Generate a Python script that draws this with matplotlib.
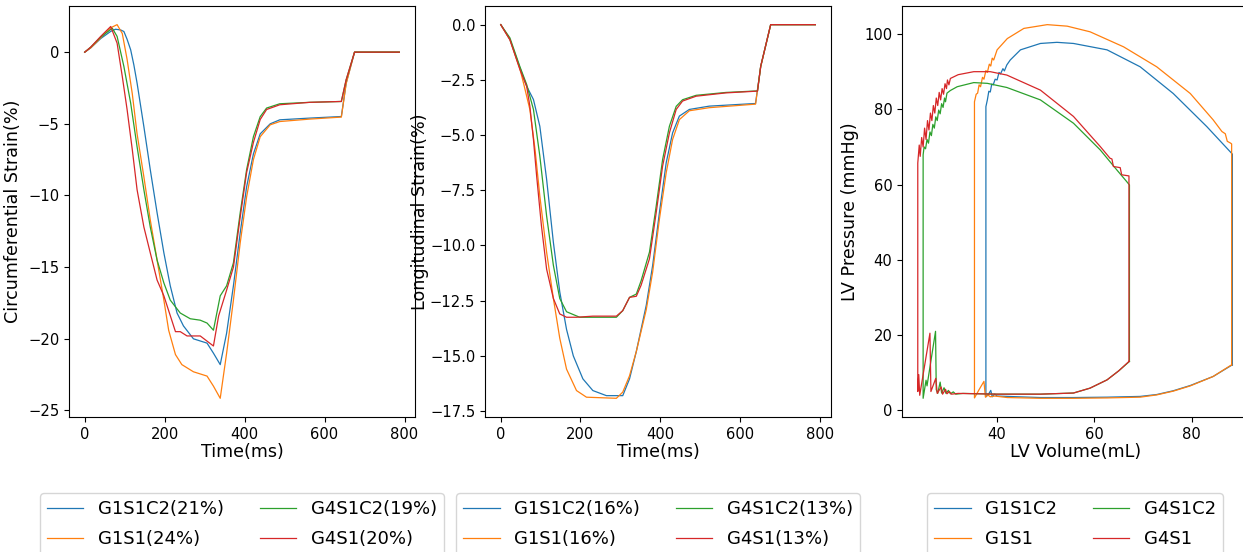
import matplotlib
matplotlib.use("Agg")
import matplotlib.pyplot as plt

labels = ["G1S1C2", "G1S1", "G4S1C2", "G4S1"]
colors = ["tab:blue", "tab:orange", "tab:green", "tab:red"]
circ_pct = ["21%", "24%", "19%", "20%"]
long_pct = ["16%", "16%", "13%", "13%"]

# circumferential strain (%), time in ms
circ_t_g1s1c2 = [0, 15, 40, 65, 77, 90, 98, 106, 115, 123, 131, 148, 164, 181, 198, 214, 231, 247, 272, 306, 322,
                 339, 355, 372, 389, 405, 422, 439, 464, 488, 563, 642, 654, 675, 787]
circ_g1s1c2 = [0, 0.3, 0.95, 1.45, 1.6, 1.55, 1.44, 0.9, 0.16, -0.9, -2.16, -5.2, -8.2, -11.2, -14.0, -16.3, -18.2,
               -19.1, -20.0, -20.3, -21.0, -21.8, -19.6, -16.3, -12.6, -9.4, -7.1, -5.7, -5.0, -4.72, -4.6, -4.49,
               -2.16, 0, 0]
circ_t_g1s1 = [0, 15, 40, 65, 81, 94, 106, 119, 131, 148, 164, 181, 198, 210, 227, 243, 272, 306, 322, 339, 355, 372,
               389, 405, 422, 439, 464, 488, 563, 642, 654, 675, 787]
circ_g1s1 = [0, 0.3, 1.0, 1.7, 1.92, 1.3, -0.5, -2.9, -5.7, -8.7, -11.7, -14.5, -17.3, -19.4, -21.1, -21.8, -22.3,
             -22.6, -23.3, -24.15, -21.0, -17.3, -13.3, -10.1, -7.5, -5.9, -5.07, -4.84, -4.67, -4.53, -2.2, 0, 0]
circ_t_g4s1c2 = [0, 15, 40, 69, 81, 98, 115, 131, 148, 164, 181, 198, 214, 239, 264, 289, 306, 322, 339, 355, 372,
                 389, 405, 422, 439, 455, 488, 563, 642, 654, 675, 787]
circ_g4s1c2 = [0, 0.35, 1.05, 1.67, 1.1, -1.0, -3.56, -6.6, -9.6, -12.2, -14.5, -16.1, -17.3, -18.2, -18.6, -18.7,
               -18.9, -19.4, -17.0, -16.3, -14.7, -11.2, -8.2, -5.9, -4.5, -3.9, -3.6, -3.5, -3.44, -1.93, 0, 0]
circ_t_g4s1 = [0, 15, 40, 65, 81, 94, 106, 119, 131, 148, 164, 181, 198, 227, 239, 256, 289, 322, 335, 355, 372, 389,
               405, 422, 439, 455, 488, 563, 642, 654, 675, 787]
circ_g4s1 = [0, 0.35, 1.1, 1.79, 0.63, -1.7, -4.0, -6.8, -9.6, -12.2, -14.0, -15.9, -17.0, -19.5, -19.5, -19.8, -19.8,
             -20.5, -18.4, -16.6, -15.0, -11.5, -8.4, -6.3, -4.7, -4.0, -3.67, -3.5, -3.44, -1.93, 0, 0]

# longitudinal strain (%)
long_t_g1s1c2 = [0, 23, 48, 65, 82, 98, 115, 132, 148, 165, 182, 206, 231, 265, 306, 323, 340, 365, 381, 398, 415,
                 431, 448, 473, 523, 639, 652, 677, 789]
long_g1s1c2 = [0, -0.68, -1.95, -2.79, -3.39, -4.6, -7.0, -9.86, -12.1, -13.8, -15.0, -16.04, -16.57, -16.8, -16.8,
               -16.04, -14.8, -12.7, -10.9, -8.5, -6.25, -4.9, -4.14, -3.84, -3.69, -3.57, -1.9, 0, 0]
long_t_g1s1 = [0, 23, 48, 57, 73, 86, 98, 115, 132, 148, 165, 190, 215, 290, 306, 323, 340, 365, 381, 398, 415, 431,
               448, 473, 523, 639, 652, 677, 789]
long_g1s1 = [0, -0.68, -2.0, -2.64, -3.84, -5.65, -7.76, -10.3, -12.4, -14.2, -15.6, -16.57, -16.87, -16.92, -16.64,
             -15.9, -14.8, -12.9, -11.2, -8.8, -6.7, -5.2, -4.3, -3.9, -3.76, -3.6, -1.9, 0, 0]
long_t_g4s1c2 = [0, 23, 48, 65, 82, 98, 115, 132, 148, 165, 198, 290, 306, 323, 340, 352, 373, 390, 406, 423, 440,
                 456, 490, 565, 644, 652, 677, 789]
long_g4s1c2 = [0, -0.6, -1.9, -2.71, -3.84, -5.95, -8.66, -10.9, -12.4, -13.0, -13.25, -13.25, -12.95, -12.35, -12.2,
               -11.6, -10.3, -8.2, -6.1, -4.6, -3.7, -3.4, -3.2, -3.07, -3.0, -1.88, 0, 0]
long_t_g4s1 = [0, 23, 48, 65, 73, 82, 90, 102, 115, 132, 148, 165, 190, 231, 290, 306, 323, 340, 352, 373, 390, 406,
               423, 440, 456, 490, 565, 644, 652, 677, 789]
long_g4s1 = [0, -0.68, -2.03, -2.79, -3.69, -5.2, -6.85, -9.1, -11.07, -12.4, -13.1, -13.25, -13.25, -13.2, -13.2,
             -12.95, -12.35, -12.3, -11.8, -10.6, -8.5, -6.4, -4.9, -3.84, -3.46, -3.24, -3.09, -3.01, -1.88, 0, 0]

# PV loops, volume (mL) and pressure (mmHg)
pv_v_g1s1c2 = [88.35, 88.35, 83.1, 76.2, 69.4, 62.6, 55.7, 52.3, 48.9, 44.8, 42.7, 42.0, 41.5, 41.2, 40.7, 40.4, 40.0,
               39.6, 39.2, 38.9, 38.6, 38.3, 38.0, 37.7, 37.7, 38.2, 38.7, 39.0, 39.5, 40.0, 42.1, 48.9, 55.7, 62.6,
               69.4, 72.8, 76.2, 79.7, 84.4, 88.35]
pv_p_g1s1c2 = [12.1, 68.1, 75.4, 84.2, 91.3, 95.8, 97.5, 97.8, 97.5, 95.8, 93.1, 91.8, 90.2, 90.8, 89.4, 89.8, 87.8,
               88.0, 86.5, 86.7, 84.6, 84.8, 82.5, 80.7, 3.6, 4.2, 5.3, 3.6, 4.3, 3.8, 3.7, 3.4, 3.4, 3.5, 3.7, 4.2,
               5.2, 6.6, 9.0, 12.1]
pv_v_g1s1 = [88.2, 88.2, 88.0, 87.3, 86.9, 86.2, 84.4, 79.7, 72.8, 66.0, 59.1, 54.4, 50.3, 45.5, 42.1, 40.0, 39.3,
             39.0, 38.7, 38.4, 38.0, 37.7, 37.3, 37.0, 36.6, 36.3, 36.0, 35.7, 35.35, 35.35, 36.3, 37.3, 37.6, 38.1,
             38.6, 39.5, 42.1, 48.9, 55.7, 62.6, 69.4, 72.8, 76.2, 79.7, 84.4, 88.2]
pv_p_g1s1 = [12.1, 70.8, 71.0, 71.5, 73.5, 74.1, 77.2, 84.2, 91.3, 96.6, 100.6, 102.1, 102.5, 101.5, 98.8, 95.8, 93.1,
             93.6, 91.5, 92.0, 89.8, 90.3, 88.0, 88.5, 86.0, 86.5, 84.3, 84.0, 82.0, 3.3, 5.5, 7.7, 3.5, 4.1, 3.6,
             3.8, 3.4, 3.2, 3.2, 3.3, 3.5, 4.1, 5.1, 6.5, 9.0, 12.1]
pv_v_g4s1c2 = [67.2, 67.2, 66.5, 64.6, 61.2, 55.7, 48.9, 42.0, 38.0, 35.2, 31.8, 30.4, 29.7, 29.4, 29.2, 28.9, 28.6,
               28.3, 28.0, 27.7, 27.4, 27.1, 26.8, 26.5, 26.2, 25.9, 25.6, 25.3, 25.0, 24.8, 24.8, 25.4, 25.6, 27.35,
               27.5, 27.8, 28.3, 28.6, 29.1, 29.5, 30.0, 30.4, 31.0, 31.5, 33.0, 40.0, 48.9, 55.7, 59.1, 62.6, 65.0,
               67.2]
pv_p_g4s1c2 = [13.0, 59.9, 61.0, 63.9, 69.2, 76.3, 82.5, 85.8, 86.9, 87.1, 86.0, 85.0, 84.3, 82.0, 83.0, 80.5, 81.5,
               78.8, 79.8, 77.0, 78.0, 75.0, 76.0, 73.0, 74.0, 71.0, 72.0, 69.5, 70.0, 67.9, 3.2, 8.0, 6.5, 21.0, 5.5,
               4.5, 7.5, 4.6, 6.0, 4.5, 5.3, 4.4, 4.9, 4.3, 4.5, 4.3, 4.3, 4.6, 5.9, 8.1, 10.5, 13.0]
pv_v_g4s1 = [67.1, 67.1, 65.6, 65.3, 63.9, 63.6, 63.2, 61.2, 55.7, 48.9, 42.0, 38.6, 35.2, 32.0, 30.4, 30.1, 29.8,
             29.6, 29.3, 29.0, 28.7, 28.4, 28.1, 27.8, 27.5, 27.2, 26.9, 26.6, 26.3, 26.0, 25.7, 25.4, 25.1, 24.8,
             24.5, 24.2, 24.0, 23.7, 23.7, 23.9, 24.1, 26.2, 26.4, 27.4, 27.7, 28.5, 28.8, 29.4, 29.7, 30.2, 30.6,
             32.0, 40.0, 48.9, 55.7, 59.1, 62.6, 65.0, 67.1]
pv_p_g4s1 = [13.0, 62.3, 62.6, 64.5, 64.8, 66.8, 67.0, 70.1, 78.1, 85.1, 89.1, 90.0, 90.0, 89.2, 88.2, 86.5, 87.8,
             85.5, 86.8, 84.0, 85.5, 82.5, 84.5, 81.0, 83.0, 79.0, 81.0, 77.0, 79.0, 74.5, 77.0, 72.0, 75.0, 70.0,
             72.5, 67.5, 70.5, 65.7, 5.0, 9.5, 4.0, 20.5, 5.0, 8.5, 4.5, 6.2, 4.3, 5.6, 4.4, 5.0, 4.3, 4.5, 4.3, 4.3,
             4.6, 5.9, 8.1, 10.5, 13.0]

circ_t = [circ_t_g1s1c2, circ_t_g1s1, circ_t_g4s1c2, circ_t_g4s1]
circ_y = [circ_g1s1c2, circ_g1s1, circ_g4s1c2, circ_g4s1]
long_t = [long_t_g1s1c2, long_t_g1s1, long_t_g4s1c2, long_t_g4s1]
long_y = [long_g1s1c2, long_g1s1, long_g4s1c2, long_g4s1]
pv_v = [pv_v_g1s1c2, pv_v_g1s1, pv_v_g4s1c2, pv_v_g4s1]
pv_p = [pv_p_g1s1c2, pv_p_g1s1, pv_p_g4s1c2, pv_p_g4s1]

lw = 0.9
tick_fs = 10.6
label_fs = 12.6
legend_fs = 13

fig = plt.figure(figsize=(12.43, 5.52), dpi=100)
ax1 = fig.add_axes([0.0555, 0.2446, 0.2784, 0.7446])
ax2 = fig.add_axes([0.3902, 0.2446, 0.2784, 0.7446])
ax3 = fig.add_axes([0.7257, 0.2446, 0.2784, 0.7446])

for i in range(4):
    ax1.plot(circ_t[i], circ_y[i], color=colors[i], lw=lw, label=labels[i] + "(" + circ_pct[i] + ")")
    ax2.plot(long_t[i], long_y[i], color=colors[i], lw=lw, label=labels[i] + "(" + long_pct[i] + ")")
    ax3.plot(pv_v[i], pv_p[i], color=colors[i], lw=lw, label=labels[i])

ax1.set_xlabel("Time(ms)", fontsize=label_fs, labelpad=1)
ax1.set_ylabel("Circumferential Strain(%)", fontsize=label_fs)
ax1.set_xticks([0, 200, 400, 600, 800])
ax2.set_xlabel("Time(ms)", fontsize=label_fs, labelpad=1)
ax2.set_ylabel("Longitudinal Strain(%)", fontsize=label_fs, labelpad=1)
ax2.set_xticks([0, 200, 400, 600, 800])
ax3.set_xlabel("LV Volume(mL)", fontsize=label_fs, labelpad=1)
ax3.set_ylabel("LV Pressure (mmHg)", fontsize=label_fs)

for ax in (ax1, ax2, ax3):
    ax.tick_params(labelsize=tick_fs)
    ax.legend(loc="upper center", bbox_to_anchor=(0.5, -0.185), ncol=2, fontsize=legend_fs,
              borderaxespad=0, labelspacing=0.65)

fig.savefig("out.png", dpi=100)
